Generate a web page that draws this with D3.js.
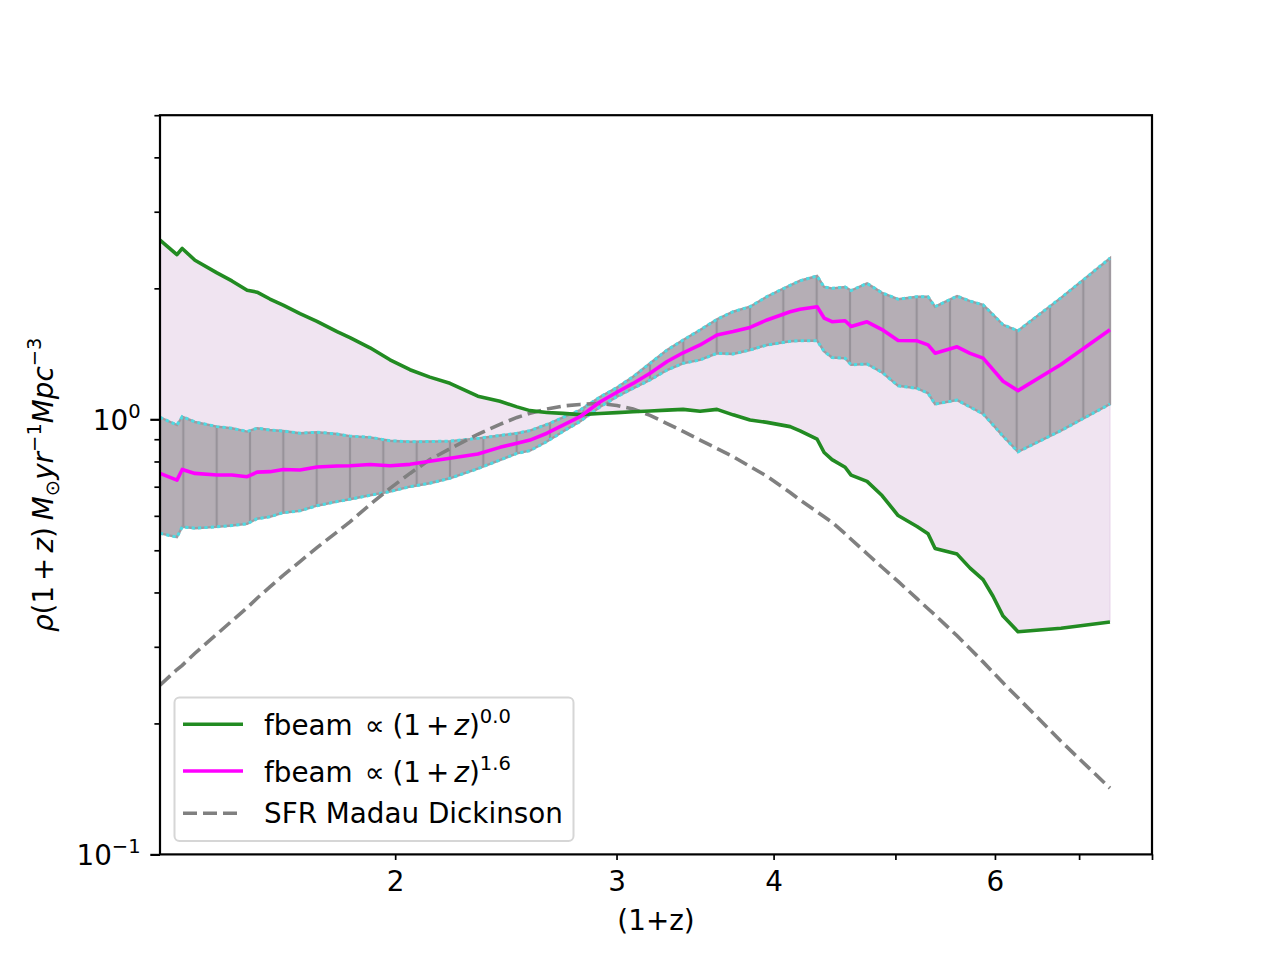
<!DOCTYPE html>
<meta charset="utf-8">
<html>
<head>
  <title>fbeam vs SFR</title>
  <style>
    body { margin: 0; background: #ffffff; }
    svg { display: block; }
    text { font-family: 'DejaVu Sans', sans-serif; }
  </style>
  <script src="https://d3js.org/d3.v7.min.js"></script>
</head>
<body>

  <svg width="1280" height="960"></svg>

  <script>

    // (1+z) sample points shared by every series
    var xVals = [1.300, 1.341, 1.354, 1.386, 1.443, 1.483, 1.525, 1.553, 1.590, 1.629,
                 1.680, 1.733, 1.798, 1.841, 1.910, 1.981, 2.055, 2.131, 2.211, 2.327,
                 2.423, 2.500, 2.560, 2.641, 2.720, 2.806, 2.910, 3.002, 3.092, 3.190,
                 3.291, 3.389, 3.496, 3.606, 3.714, 3.831, 3.952, 4.123, 4.199, 4.332,
                 4.388, 4.452, 4.560, 4.610, 4.747, 4.879, 5.025, 5.202, 5.308, 5.377,
                 5.598, 5.733, 5.871, 5.979, 6.090, 6.259, 6.771, 7.407];

    // fbeam ∝ (1+z)^0.0
    var greenVals = [2.58, 2.39, 2.47, 2.32, 2.17, 2.08, 1.98, 1.96, 1.89, 1.83,
                     1.75, 1.68, 1.59, 1.54, 1.46, 1.37, 1.30, 1.25, 1.21, 1.13,
                     1.10, 1.068, 1.047, 1.037, 1.032, 1.025, 1.031, 1.036, 1.041, 1.045,
                     1.050, 1.054, 1.044, 1.054, 1.024, 0.996, 0.984, 0.962, 0.941, 0.900,
                     0.839, 0.808, 0.776, 0.744, 0.720, 0.668, 0.601, 0.567, 0.546, 0.505,
                     0.490, 0.455, 0.428, 0.392, 0.353, 0.325, 0.331, 0.342];

    // fbeam ∝ (1+z)^1.6
    var magentaVals = [0.751, 0.725, 0.767, 0.751, 0.745, 0.745, 0.738, 0.756, 0.758, 0.767,
                       0.765, 0.777, 0.781, 0.782, 0.787, 0.782, 0.788, 0.801, 0.814, 0.832,
                       0.862, 0.881, 0.896, 0.929, 0.970, 1.014, 1.096, 1.154, 1.209, 1.276,
                       1.358, 1.422, 1.482, 1.563, 1.591, 1.626, 1.692, 1.767, 1.790, 1.814,
                       1.709, 1.676, 1.685, 1.635, 1.675, 1.608, 1.517, 1.515, 1.483, 1.419,
                       1.468, 1.418, 1.382, 1.301, 1.223, 1.164, 1.337, 1.606];

    // uncertainty band around the 1.6 curve
    var bandHigh = [1.011, 0.970, 1.014, 0.986, 0.962, 0.954, 0.937, 0.954, 0.945, 0.940,
                    0.929, 0.934, 0.925, 0.915, 0.909, 0.893, 0.888, 0.889, 0.891, 0.904,
                    0.918, 0.929, 0.942, 0.973, 1.010, 1.050, 1.125, 1.183, 1.253, 1.345,
                    1.443, 1.521, 1.604, 1.698, 1.767, 1.815, 1.915, 2.032, 2.082, 2.135,
                    2.014, 2.000, 2.014, 1.977, 2.053, 1.953, 1.888, 1.913, 1.913, 1.815,
                    1.919, 1.870, 1.832, 1.740, 1.649, 1.598, 1.902, 2.345];

    var bandLow = [0.547, 0.536, 0.566, 0.562, 0.566, 0.570, 0.575, 0.591, 0.597, 0.610,
                   0.616, 0.633, 0.647, 0.655, 0.669, 0.682, 0.700, 0.713, 0.732, 0.770,
                   0.806, 0.835, 0.847, 0.889, 0.938, 0.988, 1.067, 1.127, 1.178, 1.231,
                   1.298, 1.345, 1.369, 1.418, 1.413, 1.443, 1.482, 1.511, 1.516, 1.516,
                   1.432, 1.387, 1.381, 1.334, 1.340, 1.282, 1.194, 1.178, 1.148, 1.084,
                   1.107, 1.067, 1.029, 0.971, 0.914, 0.842, 0.942, 1.084];

    // SFR Madau Dickinson (dashed)
    var sfrVals = [0.245, 0.266, 0.272, 0.290, 0.321, 0.344, 0.369, 0.388, 0.412, 0.438,
                   0.471, 0.507, 0.551, 0.581, 0.637, 0.694, 0.751, 0.808, 0.856, 0.924,
                   0.974, 1.010, 1.032, 1.056, 1.073, 1.082, 1.088, 1.076, 1.056, 1.021,
                   0.978, 0.938, 0.896, 0.857, 0.821, 0.779, 0.740, 0.679, 0.652, 0.613,
                   0.597, 0.580, 0.546, 0.530, 0.491, 0.457, 0.424, 0.387, 0.367, 0.355,
                   0.318, 0.297, 0.277, 0.262, 0.248, 0.229, 0.182, 0.142];

    // ticks
    var xTicks = [2, 3, 4, 5, 6, 7, 8];
    var xTickLabels = [2, 3, 4, 6];
    var yMajor = [0.1, 1];
    var yMajorExp = ["\u22121", "0"];
    var yMinor = [0.2, 0.3, 0.4, 0.5, 0.6, 0.7, 0.8, 0.9, 2, 3, 4, 5];

    var rows = xVals.map(function(x, i) {
      return { x: x, g: greenVals[i], m: magentaVals[i], lo: bandLow[i], hi: bandHigh[i], s: sfrVals[i] };
    });

    var svg = d3.select("svg");

    // plot box in page pixels (matplotlib default subplot position)
    // (not named top/left: window.top is read-only)
    var box = { x0: 160, x1: 1152, y0: 115.2, y1: 854.4 };
    var fontSize = 27.8, supSize = 19.5;
    var lineW = 3.6;

    var x = d3.scaleLog().domain([1.3, 8]).range([box.x0, box.x1]);
    var y = d3.scaleLog().domain([0.1, 5]).range([box.y1, box.y0]);

    var defs = svg.append("defs");
    defs.append("clipPath").attr("id", "plotclip")
      .append("rect")
      .attr("x", box.x0).attr("y", box.y0)
      .attr("width", box.x1 - box.x0).attr("height", box.y1 - box.y0);

    // vertical hatch used on the grey band
    var pat = defs.append("pattern")
      .attr("id", "vhatch")
      .attr("patternUnits", "userSpaceOnUse")
      .attr("width", 100 / 3).attr("height", 20);
    pat.append("rect").attr("width", 100 / 3).attr("height", 20).attr("fill", "#b5aeb5");
    pat.append("line")
      .attr("x1", 50 / 3).attr("x2", 50 / 3).attr("y1", 0).attr("y2", 20)
      .attr("stroke", "#98939a").attr("stroke-width", 2.2);

    var plot = svg.append("g").attr("clip-path", "url(#plotclip)");

    // pale fill between the two fbeam curves
    var between = d3.area()
      .x(function(d) { return x(d.x); })
      .y0(function(d) { return y(d.g); })
      .y1(function(d) { return y(d.m); });
    plot.append("path").datum(rows)
      .attr("d", between)
      .attr("fill", "#f0e4f1")
      .attr("stroke", "#e6d2e8")
      .attr("stroke-width", 1);

    // grey hatched band
    var band = d3.area()
      .x(function(d) { return x(d.x); })
      .y0(function(d) { return y(d.lo); })
      .y1(function(d) { return y(d.hi); });
    plot.append("path").datum(rows)
      .attr("d", band)
      .attr("fill", "url(#vhatch)")
      .attr("stroke", "#a09aa0")
      .attr("stroke-width", 2.4);

    // dotted cyan edges of the band
    ["lo", "hi"].forEach(function(k) {
      var edge = d3.line()
        .x(function(d) { return x(d.x); })
        .y(function(d) { return y(d[k]); });
      plot.append("path").datum(rows)
        .attr("d", edge)
        .attr("fill", "none")
        .attr("stroke", "#4ddbe3")
        .attr("stroke-width", 3)
        .attr("stroke-dasharray", "3.2,3.2");
    });

    function curve(key) {
      return d3.line()
        .x(function(d) { return x(d.x); })
        .y(function(d) { return y(d[key]); });
    }

    plot.append("path").datum(rows)
      .attr("d", curve("s"))
      .attr("fill", "none")
      .attr("stroke", "#808080")
      .attr("stroke-width", lineW)
      .attr("stroke-dasharray", "14,6");

    plot.append("path").datum(rows)
      .attr("d", curve("g"))
      .attr("fill", "none")
      .attr("stroke", "#228b22")
      .attr("stroke-width", lineW)
      .attr("stroke-linejoin", "round");

    plot.append("path").datum(rows)
      .attr("d", curve("m"))
      .attr("fill", "none")
      .attr("stroke", "#ff00ff")
      .attr("stroke-width", lineW)
      .attr("stroke-linejoin", "round");

    // x axis: only minor ticks, some of them labelled
    var gx = svg.append("g")
      .attr("transform", "translate(0," + box.y1 + ")")
      .call(d3.axisBottom(x)
        .tickValues(xTicks)
        .tickSize(5.6)
        .tickPadding(11)
        .tickFormat(function(d) { return xTickLabels.indexOf(d) >= 0 ? d : ""; }));
    gx.select(".domain").remove();
    gx.selectAll("line").attr("stroke", "#000").attr("stroke-width", 1.7);
    gx.selectAll("text")
      .attr("fill", "#000")
      .attr("font-size", fontSize)
      .attr("font-family", "DejaVu Sans");

    // y axis minor ticks
    var gyMinor = svg.append("g")
      .attr("transform", "translate(" + box.x0 + ",0)")
      .call(d3.axisLeft(y).tickValues(yMinor).tickSize(5.6).tickFormat(""));
    gyMinor.select(".domain").remove();
    gyMinor.selectAll("line").attr("stroke", "#000").attr("stroke-width", 1.7);

    // y axis major ticks with 10^n labels
    var gy = svg.append("g")
      .attr("transform", "translate(" + box.x0 + ",0)")
      .call(d3.axisLeft(y).tickValues(yMajor).tickSize(9.7).tickPadding(9.7).tickFormat(function() { return "10"; }));
    gy.select(".domain").remove();
    gy.selectAll("line").attr("stroke", "#000").attr("stroke-width", 2.2);
    gy.selectAll("text")
      .attr("fill", "#000")
      .attr("font-size", fontSize)
      .attr("font-family", "DejaVu Sans")
      .attr("dy", "0.36em")
      .append("tspan")
        .attr("dy", -12)
        .attr("font-size", supSize)
        .text(function(d) { return yMajorExp[yMajor.indexOf(d)]; });

    // frame
    svg.append("rect")
      .attr("x", box.x0).attr("y", box.y0)
      .attr("width", box.x1 - box.x0).attr("height", box.y1 - box.y0)
      .attr("fill", "none")
      .attr("stroke", "#000")
      .attr("stroke-width", 2.2);

    // axis labels
    svg.append("text")
      .attr("x", (box.x0 + box.x1) / 2)
      .attr("y", 930)
      .attr("text-anchor", "middle")
      .attr("font-size", fontSize)
      .text("(1+z)");

    var yl = svg.append("text")
      .attr("transform", "translate(53," + ((box.y0 + box.y1) / 2) + ") rotate(-90)")
      .attr("text-anchor", "middle")
      .attr("font-size", fontSize);
    yl.append("tspan").attr("font-style", "italic").text("\u03c1");
    yl.append("tspan").text("(1");
    yl.append("tspan").attr("dx", 5).text("+");
    yl.append("tspan").attr("dx", 5).attr("font-style", "italic").text("z");
    yl.append("tspan").text(")");
    yl.append("tspan").attr("dx", 7).attr("font-style", "italic").text("M");
    yl.append("tspan").attr("font-size", supSize).attr("dy", 6).text("\u2299");
    yl.append("tspan").attr("font-style", "italic").attr("dy", -6).text("yr");
    yl.append("tspan").attr("font-size", supSize).attr("dy", -12).text("\u22121");
    yl.append("tspan").attr("font-style", "italic").attr("dy", 12).text("Mpc");
    yl.append("tspan").attr("font-size", supSize).attr("dy", -12).text("\u22123");

    // legend
    var legend = svg.append("g");
    legend.append("rect")
      .attr("x", 174.5).attr("y", 697.5)
      .attr("width", 399).attr("height", 143.5)
      .attr("rx", 5)
      .attr("fill", "#ffffff").attr("fill-opacity", 0.8)
      .attr("stroke", "#d6d6d6").attr("stroke-width", 2);

    var legendItems = [
      { color: "#228b22", dash: null, y: 724.3, base: 735, exp: "0.0" },
      { color: "#ff00ff", dash: null, y: 771, base: 781.7, exp: "1.6" },
      { color: "#808080", dash: "14,6", y: 813.3, base: 823, exp: null }
    ];

    legendItems.forEach(function(item) {
      legend.append("line")
        .attr("x1", 183).attr("x2", 243)
        .attr("y1", item.y).attr("y2", item.y)
        .attr("stroke", item.color)
        .attr("stroke-width", lineW)
        .attr("stroke-dasharray", item.dash);

      var t = legend.append("text")
        .attr("x", 264).attr("y", item.base)
        .attr("font-size", fontSize);
      if (item.exp) {
        t.append("tspan").text("fbeam");
        t.append("tspan").attr("dx", 12).text("\u221d");
        t.append("tspan").attr("dx", 8).text("(1");
        t.append("tspan").attr("dx", 5).text("+");
        t.append("tspan").attr("dx", 5).attr("font-style", "italic").text("z");
        t.append("tspan").text(")");
        t.append("tspan").attr("font-size", supSize).attr("dy", -12).text(item.exp);
      } else {
        t.text("SFR Madau Dickinson");
      }
    });

  </script>

</body>
</html>
